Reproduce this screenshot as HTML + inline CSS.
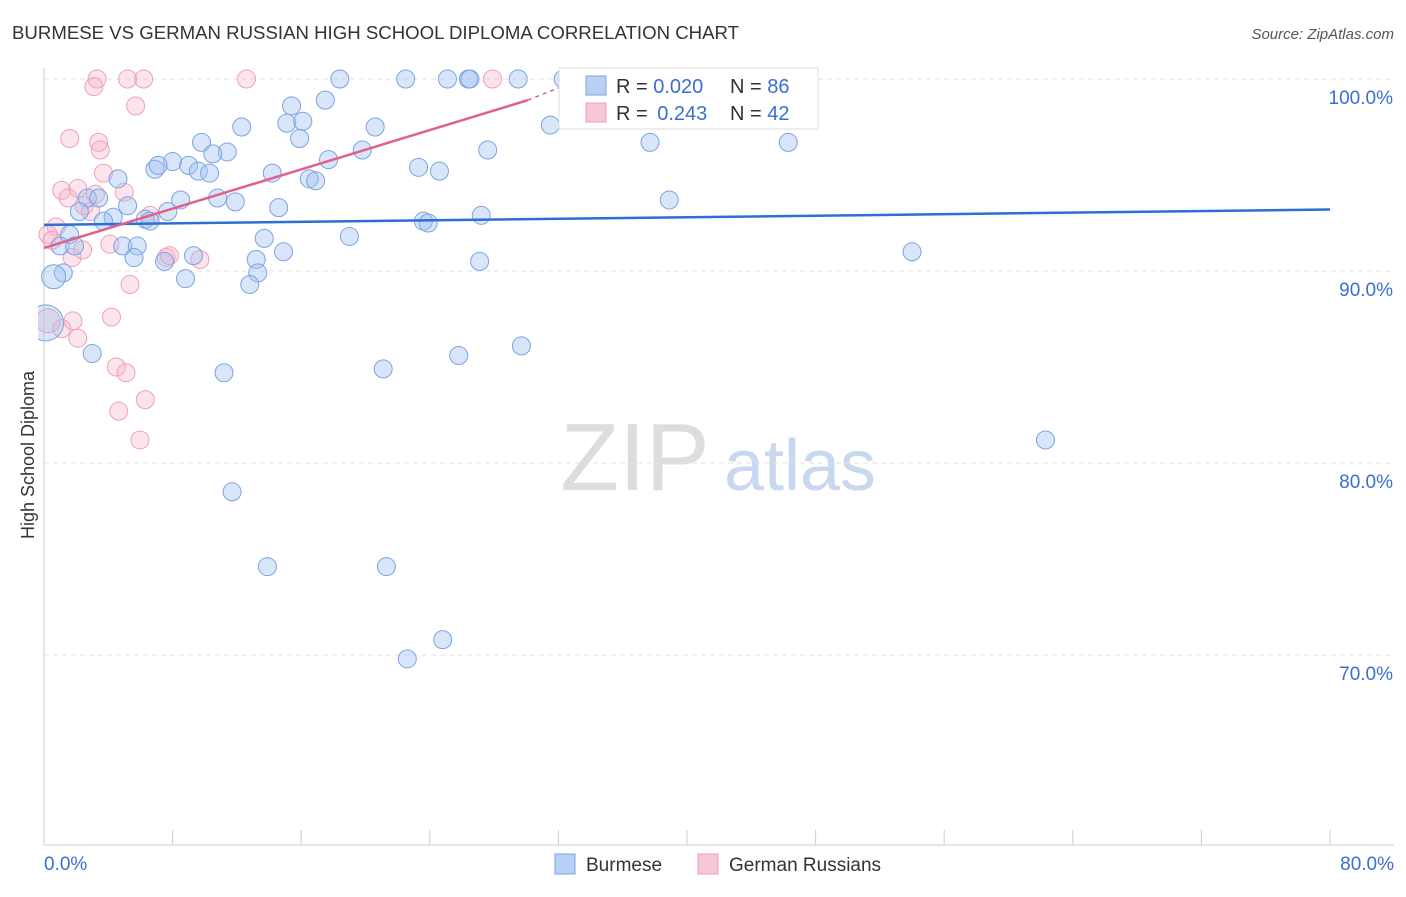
<!DOCTYPE html>
<html><head><meta charset="utf-8"><style>
body{margin:0;background:#fff;font-family:"Liberation Sans",sans-serif;}
svg text{font-family:"Liberation Sans",sans-serif;}
</style></head><body>
<svg id="c" width="1406" height="892" viewBox="0 0 1406 892">
<defs><clipPath id="plot"><rect x="38" y="60" width="1370" height="786"/></clipPath></defs>
<text x="12" y="39" font-size="18" fill="#333" textLength="727" lengthAdjust="spacingAndGlyphs">BURMESE VS GERMAN RUSSIAN HIGH SCHOOL DIPLOMA CORRELATION CHART</text>
<text x="1394" y="39" font-size="15" fill="#555" font-style="italic" text-anchor="end">Source: ZipAtlas.com</text>
<text x="34" y="455" font-size="18" fill="#333" text-anchor="middle" transform="rotate(-90 34 455)">High School Diploma</text>
<g><text x="635" y="490" font-size="96" fill="#ddd" text-anchor="middle" font-family="Liberation Serif">ZIP</text><text x="800" y="490" font-size="72" fill="#c8d8ee" text-anchor="middle">atlas</text></g>
<g id="grid"></g><g id="marks" clip-path="url(#plot)"></g>
<g>
<rect x="559" y="68" width="259" height="61" fill="#fff" stroke="#ddd"/>
<rect x="586" y="76" width="20" height="19" fill="#b8d0f4" stroke="#7aa4e0"/>
<rect x="586" y="103" width="20" height="19" fill="#f9c8d6" stroke="#eea0b8"/>
<text x="616" y="93" font-size="20" fill="#333">R = <tspan fill="#3a6fd0">0.020</tspan></text>
<text x="730" y="93" font-size="20" fill="#333">N = <tspan fill="#3a6fd0">86</tspan></text>
<text x="616" y="120" font-size="20" fill="#333">R = <tspan fill="#3a6fd0" dx="4">0.243</tspan></text>
<text x="730" y="120" font-size="20" fill="#333">N = <tspan fill="#3a6fd0">42</tspan></text>
</g>
<g>
<rect x="555" y="854" width="20" height="20" fill="#b8d0f4" stroke="#7aa4e0"/>
<text x="586" y="871" font-size="19" fill="#333">Burmese</text>
<rect x="698" y="854" width="20" height="20" fill="#f9c8d6" stroke="#eea0b8"/>
<text x="729" y="871" font-size="19" fill="#333">German Russians</text>
</g>
</svg>
<script>
const yTicks=[100,90,80,70];
const yTickLabels=["100.0%","90.0%","80.0%","70.0%"];
const xTickLabels=["0.0%","80.0%"];
const burmeseX=[18.4,22.5,25.1,26.4,26.5,29.5,32.3,17.5,15.4,12.3,20.6,15.1,16.1,15.9,9.8,11.4,10.5,19.8,27.6,37.7,46.3,31.5,17.7,8.0,9.0,6.9,7.1,9.6,10.3,14.2,23.3,24.6,16.5,16.9,4.6,8.5,10.8,11.9,38.9,5.2,2.7,3.4,2.2,4.3,3.7,6.3,7.7,6.6,14.6,23.6,23.9,27.2,1.6,13.7,19.0,1.0,1.9,4.9,5.8,14.9,9.3,54.0,5.6,7.5,13.2,27.1,13.3,8.8,12.8,1.2,0.6,0.1,3.0,25.8,29.7,11.2,21.1,62.3,11.7,13.9,21.3,24.8,22.6];
const burmeseY=[100,100,100,100,100,100,100,98.9,98.6,97.5,97.5,97.7,97.8,96.9,96.7,96.2,96.1,96.3,96.3,96.7,96.7,97.6,95.8,95.7,95.5,95.3,95.5,95.2,95.1,95.1,95.4,95.2,94.8,94.7,94.8,93.7,93.8,93.6,93.7,93.4,93.8,93.8,93.1,92.8,92.6,92.7,93.1,92.6,93.3,92.6,92.5,92.9,91.9,91.7,91.8,91.3,91.3,91.3,91.3,91.0,90.8,91.0,90.7,90.5,90.6,90.5,89.9,89.6,89.3,89.9,89.7,87.3,85.7,85.6,86.1,84.7,84.9,81.2,78.5,74.6,74.6,70.8,69.8];
const burmeseR=[9,9,9,9,9,9,9,9,9,9,9,9,9,9,9,9,9,9,9,9,9,9,9,9,9,9,9,9,9,9,9,9,9,9,9,9,9,9,9,9,9,9,9,9,9,9,9,9,9,9,9,9,9,9,9,9,9,9,9,9,9,9,9,9,9,9,9,9,9,9,12,18,9,9,9,9,9,9,9,9,9,9,9];
const germanX=[3.3,5.2,6.2,12.6,27.9,3.1,5.7,1.6,3.4,3.5,3.7,1.1,2.1,3.2,4.99,1.5,2.5,2.9,6.6,0.75,0.25,0.5,4.1,2.4,7.6,7.8,9.7,1.75,5.35,1.8,4.2,1.1,2.1,4.5,5.1,6.3,4.65,5.97,0.25];
const germanY=[100,100,100,100,100,99.6,98.6,96.9,96.7,96.3,95.1,94.2,94.3,94.0,94.1,93.8,93.4,93.1,92.9,92.3,91.9,91.6,91.4,91.1,90.7,90.8,90.6,90.7,89.3,87.4,87.6,87.0,86.5,85.0,84.7,83.3,82.7,81.2,87.4];
const germanR=[9,9,9,9,9,9,9,9,9,9,9,9,9,9,9,9,9,9,9,9,9,9,9,9,9,9,9,9,9,9,9,9,9,9,9,9,9,9,12];
const blueTrend=[0,92.4,80,93.2];
const pinkTrend=[0,91.2,30.1,98.9,32.2,99.6];
const X=v=>44+v/80*1286, Y=v=>79+(100-v)*19.2;
const ns="http://www.w3.org/2000/svg";
function mk(t,a,p){const e=document.createElementNS(ns,t);for(const k in a)e.setAttribute(k,a[k]);p.appendChild(e);return e;}
const g=document.getElementById('grid'),m=document.getElementById('marks');
yTicks.forEach((t,i)=>{const l=mk('line',{x1:44,x2:1394,y1:Y(t),y2:Y(t),stroke:'#e2e2e2','stroke-dasharray':'5,4'},g);

const tx=mk('text',{x:1393,y:Y(t)+25,'font-size':19,fill:'#3a6fd0','text-anchor':'end'},g);tx.textContent=yTickLabels[i];
});
const ax=mk('line',{x1:44,x2:44,y1:68,y2:845,stroke:'#ccc'},g);
const bx=mk('line',{x1:44,x2:1394,y1:845,y2:845,stroke:'#ccc'},g);
for(let v=0;v<=80;v+=8){const t=mk('line',{x1:X(v),x2:X(v),y1:830,y2:845,stroke:'#ccc'},g);}
[[0,'start',44],[80,'end',1394]].forEach((d,i)=>{const t=mk('text',{x:d[2],y:870,'font-size':19,fill:'#3a6fd0','text-anchor':d[1]},g);t.textContent=xTickLabels[i];});
germanX.forEach((x,i)=>{const c=mk('circle',{cx:X(x),cy:Y(germanY[i]),r:germanR[i],fill:'rgba(246,178,200,0.35)',stroke:'#eea0b8','stroke-width':1},m);});
burmeseX.forEach((x,i)=>{const c=mk('circle',{cx:X(x),cy:Y(burmeseY[i]),r:burmeseR[i],fill:'rgba(160,192,240,0.4)',stroke:'#7aa4e0','stroke-width':1},m);});
const bl=mk('line',{x1:X(blueTrend[0]),y1:Y(blueTrend[1]),x2:X(blueTrend[2]),y2:Y(blueTrend[3]),stroke:'#2d6fd6','stroke-width':2.5},m);
const pl=mk('line',{x1:X(pinkTrend[0]),y1:Y(pinkTrend[1]),x2:X(pinkTrend[2]),y2:Y(pinkTrend[3]),stroke:'#e0608e','stroke-width':2.5},m);
const pd=mk('line',{x1:X(pinkTrend[2]),y1:Y(pinkTrend[3]),x2:X(pinkTrend[4]),y2:Y(pinkTrend[5]),stroke:'#e0608e','stroke-width':1.5,'stroke-dasharray':'4,4'},m);
</script>
</body></html>
